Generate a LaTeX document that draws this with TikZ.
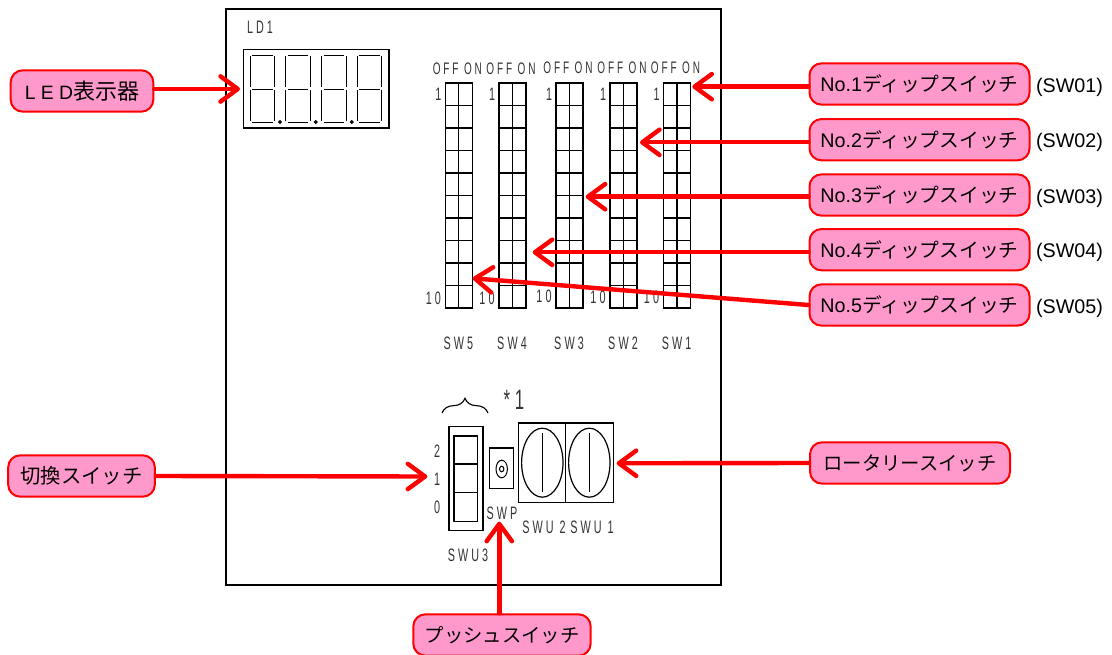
\documentclass[tikz,border=0pt]{standalone}
\usepackage{fontspec}
\setmainfont{Liberation Sans}
\newfontfamily\jpfont{Noto Sans CJK JP}
\newfontfamily\partfont[FakeStretch=0.6,LetterSpace=17]{Liberation Sans}
\usetikzlibrary{
    arrows.meta,
    decorations.pathreplacing
}
\definecolor{calloutpink}{HTML}{FF99CC}
\tikzset{
    callout/.style={draw=red,line width=1.5pt,fill=calloutpink,rounded corners=9pt,
        minimum height=31pt,inner sep=0pt,font=\fontsize{14.8}{16}\selectfont},
    pointer/.style={draw=red,line width=3.3pt,line cap=round,
        -{Straight Barb[length=13pt,width=19pt,round]}},
    partlabel/.style={inner sep=0pt,text=black!80,font=\partfont\fontsize{13.5}{15}\selectfont},
    partline/.style={line width=0.9pt},
    segline/.style={line width=0.65pt}
}

\begin{document}
\begin{tikzpicture}[x=0.75pt,y=-0.75pt]
\useasboundingbox (0,0) rectangle (1112,655);

% Panel
\draw[line width=1pt] (226,9) rectangle (721,585);

% LED display
\node[partlabel] (ldname) at (260,27) {LD1};
\draw[partline] (243.5,49.5) rectangle (389,128);
\foreach \dx in {250,285.7,321.7,357}{
  \foreach \sy in {55,89,122.7}
    \draw[segline] (\dx+2,\sy) -- (\dx+22.5,\sy);
  \foreach \sx in {0,24.3}{
    \draw[segline] (\dx+\sx,56.5) -- (\dx+\sx,87.5);
    \draw[segline] (\dx+\sx,90.5) -- (\dx+\sx,121.2);
  }
}
\foreach \dx in {280,315.7,351.7}
  \draw[line width=0.9pt] (\dx,122) circle (1.3);

% DIP switches
\foreach \sw/\swx/\offy/\teny in {5/445.3/69/298,4/499/69/298,3/556/68/296,2/610/68/297,1/663.5/68/297}{
  \draw[partline] (\swx,83) rectangle (\swx+27,308);
  \draw[partline] (\swx+13.5,83) -- (\swx+13.5,308);
  \foreach \r in {1,...,9}
    \draw[partline] (\swx,83+22.5*\r) -- (\swx+27,83+22.5*\r);
  \node[partlabel,font=\partfont\fontsize{12.5}{14}\selectfont] (offon\sw) at (\swx+12,\offy) {OFF ON};
  \node[partlabel] (first\sw) at (\swx-7,94) {1};
  \node[partlabel] (last\sw) at (\swx-12,\teny) {10};
  \node[partlabel] (swname\sw) at (\swx+13,343) {SW\sw};
}

% Selector switch
\draw[partline] (449,426.5) rectangle (483,530.5);
\draw[partline] (454,436) rectangle (477.7,521.3);
\draw[partline] (454,464) -- (477.7,464);
\draw[partline] (454,492.7) -- (477.7,492.7);
\node[partlabel] (pos2) at (437,451.7) {2};
\node[partlabel] (pos1) at (437,479) {1};
\node[partlabel] (pos0) at (437,507) {0};
\node[partlabel] (swuthree) at (468,555) {SWU3};
\draw[line width=0.85pt,decorate,decoration={brace,amplitude=11pt}] (442,413) -- (488,413);
\node[partlabel,font=\partfont\fontsize{21}{23}\selectfont] (note) at (514,400) {*1};

% Push switch
\draw[partline] (489.3,448) rectangle (513.7,488.3);
\draw[line width=0.75pt] (501.7,469) ellipse (5.7 and 8.8);
\draw[line width=0.75pt] (501.7,469) ellipse (2.2 and 2.8);
\node[partlabel] (swp) at (502,513) {SWP};

% Rotary switches
\draw[partline] (518.3,423) rectangle (613.3,502.3);
\draw[partline] (565.7,423) -- (565.7,502.3);
\foreach \cx in {542.3,589.3}{
  \draw[partline] (\cx,462.7) ellipse (20.7 and 34.5);
  \draw[partline] (\cx,433.3) -- (\cx,491.7);
}
\node[partlabel] (swutwo) at (544,527) {SWU 2};
\node[partlabel] (swuone) at (592,527) {SWU 1};

% Callouts
\node[callout,minimum width=107pt] (led) at (82,91) {{\fontsize{14.5}{16}\selectfont L E D}{\jpfont\fontsize{16.5}{18}\selectfont 表示器}};
\node[callout,minimum width=110pt] (selector) at (81.5,476) {\jpfont\fontsize{15.3}{17}\selectfont 切換スイッチ};
\node[callout,minimum width=150pt] (rotary) at (910,463) {\jpfont\fontsize{14.5}{16}\selectfont ロータリースイッチ};
\node[callout,minimum width=133pt] (push) at (502,635) {\jpfont\fontsize{14.5}{16}\selectfont プッシュスイッチ};
\foreach \n/\ny in {1/84,2/139.7,3/195,4/249.7,5/305}{
  \node[callout,minimum width=165pt] (dip\n) at (919.5,\ny) {No.\n{\jpfont ディップスイッチ}};
  \node[inner sep=0pt,font=\fontsize{14.8}{16}\selectfont] (code\n) at (1069.5,\ny+3) {(SW0\n)};
}

% Pointers
\coordinate (tipled) at (240,89);
\coordinate (tipdip1) at (692.3,86.7);
\coordinate (tipdip2) at (640,142.3);
\coordinate (tipdip3) at (585.7,196.7);
\coordinate (tipdip4) at (532.7,252.3);
\coordinate (tipdip5) at (472.7,278.3);
\coordinate (tipselector) at (427.3,476.5);
\coordinate (tiprotary) at (616.7,463.3);
\coordinate (tippush) at (499.3,521.7);

\draw[pointer] (led.east |- tipled) -- (tipled);
\draw[pointer] (dip1.west |- tipdip1) -- (tipdip1);
\draw[pointer] (dip2.west |- tipdip2) -- (tipdip2);
\draw[pointer] (dip3.west |- tipdip3) -- (tipdip3);
\draw[pointer] (dip4.west |- tipdip4) -- (tipdip4);
\draw[pointer] (dip5.west) -- (tipdip5);
\draw[pointer] (selector.east) -- (tipselector);
\draw[pointer] (rotary.west) -- (tiprotary);
\draw[pointer] (push.north -| tippush) -- (tippush);

\end{tikzpicture}
\end{document}
